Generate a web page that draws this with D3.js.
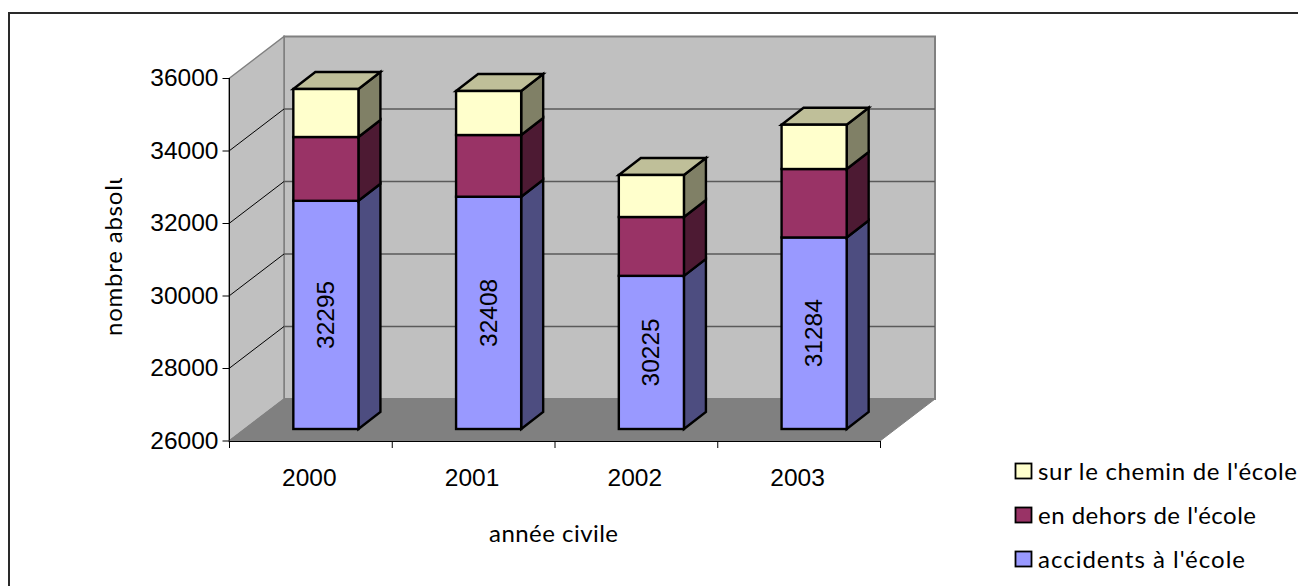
<!DOCTYPE html>
<html><head><meta charset="utf-8">
<script src="https://cdnjs.cloudflare.com/ajax/libs/d3/7.8.5/d3.min.js"></script>
<style>html,body{margin:0;padding:0;background:#fff}svg{display:block}
.num{font-family:"Liberation Sans",Arial,sans-serif;font-size:24.5px;fill:#000}
.lab{font-family:"Lato","Noto Sans",sans-serif;font-size:24px;fill:#000}
.axis path,.axis line{stroke:#000;stroke-width:1}
</style></head><body><svg id="c" width="1298" height="586"></svg>
<script>
const categories = ["2000","2001","2002","2003"];
const accidents = [32295,32408,30225,31284];
const dehors = [1760,1702,1623,1888];
const chemin = [1324,1214,1159,1222];
const seriesNames = ["accidents à l'école","en dehors de l'école","sur le chemin de l'école"];
const seriesColors = ["#9999ff","#993366","#ffffcc"];
const sideColors = ["#4d4d80","#4d1a33","#808066"];
const topColors = ["#bfbfff","#bf8099","#bfbf99"];
const yTicks = [26000,28000,30000,32000,34000,36000];
const legendWidths = [207,218,259];

const svg = d3.select("#c");
const W=1298,H=586;
const x0=229,x1=880,yB=441,yT=78.5, dx=55, dy=-42;
const barDx=22, barDy=-17;
const y = d3.scaleLinear().domain([26000,36000]).range([yB,yT]);
const yBar = d3.scaleLinear().domain([26000,36000]).range([429,66.5]);
const x = d3.scaleBand().domain(categories).range([x0,x1]).paddingInner(0).paddingOuter(0);
const barW = x.bandwidth()*0.4;
const poly = pts => pts.map(p=>p.join(",")).join(" ");

// frame
svg.append("path").attr("d",`M9,${H} V13 H${W}`).attr("fill","none").attr("stroke","#2a2a2a").attr("stroke-width",2);

// walls
svg.append("polygon").attr("points",poly([[x0+dx,yT+dy],[x1+dx,yT+dy],[x1+dx,yB+dy],[x0+dx,yB+dy]]))
  .attr("fill","#c0c0c0").attr("stroke","#808080").attr("stroke-width",2);
svg.append("polygon").attr("points",poly([[x0,yT],[x0+dx,yT+dy],[x0+dx,yB+dy],[x0,yB]]))
  .attr("fill","#c0c0c0").attr("stroke","#808080").attr("stroke-width",1.5);
svg.append("polygon").attr("points",poly([[x0,yB],[x0+dx,yB+dy],[x1+dx,yB+dy],[x1,yB]]))
  .attr("fill","#808080").attr("stroke","#808080").attr("stroke-width",1);

// gridlines
const inner = yTicks.slice(1,-1);
svg.selectAll(".g").data(inner).join("line").attr("class","g")
  .attr("x1",x0+dx).attr("x2",x1+dx).attr("y1",d=>y(d)+dy).attr("y2",d=>y(d)+dy)
  .attr("stroke","#5a5a5a").attr("stroke-width",1.4);
svg.selectAll(".s").data(inner).join("line").attr("class","s")
  .attr("x1",x0).attr("x2",x0+dx).attr("y1",d=>y(d)).attr("y2",d=>y(d)+dy)
  .attr("stroke","#000").attr("stroke-width",1);

// axes
const ax = svg.append("g").attr("class","axis").attr("transform",`translate(${x0+.5},-0.5)`)
  .call(d3.axisLeft(y).tickValues(yTicks).tickFormat(d3.format("d")).tickSize(7).tickPadding(4));
ax.selectAll("text").attr("class","num").attr("font-size",null).attr("font-family",null);
ax.select(".domain").attr("d",`M0,${y(36000)}V${y(26000)}`);
const xEdges = [...categories.map(c=>x(c)), x1];
svg.append("line").attr("x1",x0).attr("x2",x1).attr("y1",yB+.5).attr("y2",yB+.5).attr("stroke","#000");
svg.selectAll(".xt").data(xEdges).join("line").attr("class","xt")
  .attr("x1",d=>d+.5).attr("x2",d=>d+.5).attr("y1",yB).attr("y2",yB+7).attr("stroke","#000");
svg.selectAll(".xl").data(categories).join("text").attr("class","xl num")
  .attr("x",d=>x(d)+x.bandwidth()/2-1).attr("y",485.5).attr("text-anchor","middle").text(d=>d);

// bars
const rows = categories.map((c,i)=>[accidents[i],dehors[i],chemin[i]]);
rows.forEach((vals,i)=>{
  const left = x(categories[i]) + (x.bandwidth()-barW)/2 + 15.5;
  const right = left+barW;
  let base = 26000;
  vals.forEach((v,s)=>{
    const top = s===0? v : base+v;
    const yb=yBar(base), yt=yBar(top);
    const g=svg.append("g").attr("stroke","#000").attr("stroke-width",2.4).attr("stroke-linejoin","miter");
    g.append("polygon").attr("points",poly([[right,yb],[right+barDx,yb+barDy],[right+barDx,yt+barDy],[right,yt]])).attr("fill",sideColors[s]);
    if(s===2) g.append("polygon").attr("points",poly([[left,yt],[left+barDx,yt+barDy],[right+barDx,yt+barDy],[right,yt]])).attr("fill",topColors[s]);
    g.append("rect").attr("x",left).attr("y",yt).attr("width",barW).attr("height",yb-yt).attr("fill",seriesColors[s]);
    base=top;
  });
  const v=vals[0];
  svg.append("text").attr("class","num").attr("text-anchor","middle")
    .attr("transform",`translate(${(left+right)/2+8},${(yBar(26000)+yBar(v))/2}) rotate(-90)`)
    .text(v);
});

// axis titles
svg.append("text").attr("class","lab").attr("x",489).attr("y",542)
  .attr("textLength",129).attr("lengthAdjust","spacing").text("année civile");
svg.append("clipPath").attr("id","cl").append("rect").attr("x",90).attr("y",178).attr("width",60).attr("height",170);
svg.append("g").attr("clip-path","url(#cl)").append("text").attr("class","lab")
  .attr("transform","translate(122,336) rotate(-90)")
  .attr("textLength",165).attr("lengthAdjust","spacing").text("nombre absolu");

// legend
const legendY = d3.scalePoint().domain([2,1,0]).range([471,559]);
[2,1,0].forEach(s=>{
  const cy=legendY(s);
  svg.append("rect").attr("x",1015.5).attr("y",cy-7.5).attr("width",16).attr("height",15)
    .attr("fill",seriesColors[s]).attr("stroke","#000").attr("stroke-width",1.8);
  svg.append("text").attr("class","lab").attr("x",1038).attr("y",cy+9)
    .attr("textLength",legendWidths[s]).attr("lengthAdjust","spacing").text(seriesNames[s]);
});
</script></body></html>
